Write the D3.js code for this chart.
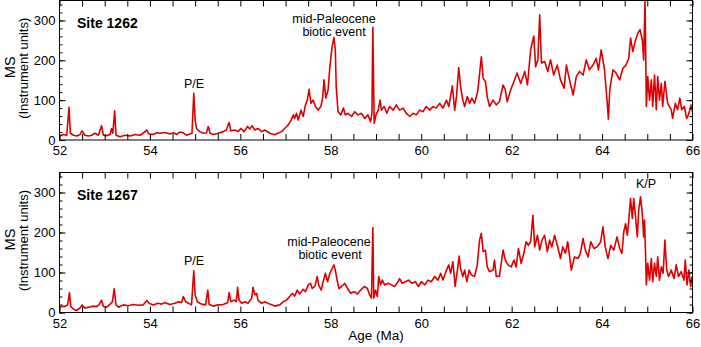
<!DOCTYPE html>
<html>
<head>
<meta charset="utf-8">
<script src="https://cdn.jsdelivr.net/npm/d3@7"></script>
<style>
  body { margin: 0; background: #fff; }
  svg { display: block; font-family: "Liberation Sans", Arial, Helvetica, sans-serif; }
  .axis text { font-size: 13px; fill: #000; }
  .axis line { stroke: #000; }
  .axis path { display: none; }
  .frame { fill: none; stroke: #000; stroke-width: 1; }
  .series { fill: none; stroke: #dc0000; stroke-width: 1.6; stroke-linejoin: round; }
  .site { font-size: 14px; font-weight: bold; }
  .note { font-size: 12.5px; text-anchor: middle; }
  .ylab { font-size: 13px; text-anchor: middle; }
  .ms { font-size: 14.5px; text-anchor: middle; }
</style>
</head>
<body>
<svg width="701" height="347"></svg>
<script>
// age (Ma), MS (instrument units)
var site1262 = [
  [52.0,8],[52.01,10],[52.08,14],[52.16,12],[52.21,82],[52.24,17],[52.31,12],[52.38,10],[52.45,13],
  [52.5,23],[52.56,12],[52.64,10],[52.71,12],[52.78,17],[52.86,12],[52.93,36],[52.97,12],[53.04,11],
  [53.12,14],[53.15,29],[53.18,17],[53.22,73],[53.25,12],[53.34,8],[53.45,12],[53.56,10],[53.67,14],
  [53.78,12],[53.85,17],[53.93,25],[53.98,15],[54.07,14],[54.15,18],[54.22,17],[54.33,19],[54.44,15],
  [54.52,18],[54.59,14],[54.66,20],[54.74,18],[54.81,12],[54.88,15],[54.93,17],[54.97,117],[55.0,50],
  [55.03,29],[55.1,21],[55.18,17],[55.25,18],[55.29,34],[55.33,17],[55.4,14],[55.51,17],[55.62,21],
  [55.69,25],[55.75,44],[55.79,23],[55.88,25],[55.95,21],[56.01,29],[56.08,21],[56.16,34],[56.21,28],
  [56.26,36],[56.32,25],[56.39,29],[56.47,21],[56.54,25],[56.65,17],[56.76,13],[56.83,17],[56.91,21],
  [56.98,29],[57.06,38],[57.12,50],[57.17,63],[57.2,54],[57.24,67],[57.28,50],[57.34,75],[57.39,59],
  [57.44,88],[57.48,100],[57.52,127],[57.56,92],[57.61,100],[57.66,84],[57.72,75],[57.78,84],[57.82,105],
  [57.85,151],[57.89,105],[57.94,126],[57.98,184],[58.03,235],[58.07,257],[58.1,226],[58.12,134],
  [58.16,71],[58.22,63],[58.28,80],[58.32,63],[58.38,67],[58.46,59],[58.53,71],[58.6,63],[58.68,67],
  [58.75,54],[58.82,63],[58.88,46],[58.91,67],[58.93,283],[58.96,42],[59.0,63],[59.05,75],[59.09,100],
  [59.12,75],[59.18,84],[59.24,67],[59.3,84],[59.38,75],[59.45,88],[59.52,75],[59.6,80],[59.67,67],
  [59.75,59],[59.82,67],[59.89,63],[59.97,75],[60.04,71],[60.11,84],[60.19,75],[60.26,84],[60.33,80],
  [60.41,92],[60.48,80],[60.56,100],[60.61,84],[60.69,136],[60.74,75],[60.78,109],[60.83,182],[60.87,134],
  [60.92,100],[60.96,84],[61.02,109],[61.07,92],[61.12,105],[61.18,92],[61.25,122],[61.33,209],[61.37,155],
  [61.42,147],[61.46,109],[61.51,84],[61.59,100],[61.66,88],[61.73,96],[61.81,138],[61.86,126],[61.9,96],
  [61.98,126],[62.05,147],[62.12,168],[62.2,142],[62.29,172],[62.35,138],[62.42,226],[62.49,261],
  [62.53,184],[62.58,201],[62.62,314],[62.66,193],[62.73,197],[62.8,172],[62.86,201],[62.93,163],
  [63.01,188],[63.08,151],[63.16,130],[63.21,188],[63.28,151],[63.36,113],[63.43,159],[63.5,172],
  [63.58,163],[63.65,201],[63.72,176],[63.8,188],[63.87,205],[63.92,176],[63.98,226],[64.05,180],
  [64.11,100],[64.14,52],[64.17,126],[64.24,176],[64.31,168],[64.39,151],[64.46,180],[64.53,188],
  [64.59,205],[64.63,256],[64.68,222],[64.73,247],[64.79,268],[64.84,277],[64.89,251],[64.92,201],
  [64.95,352],[64.98,84],[65.01,159],[65.05,100],[65.09,151],[65.12,84],[65.16,163],[65.2,76],[65.23,159],
  [65.27,100],[65.31,142],[65.34,84],[65.39,147],[65.45,92],[65.53,76],[65.56,54],[65.62,92],[65.67,76],
  [65.72,105],[65.76,76],[65.82,84],[65.87,54],[65.91,63],[65.97,88],[66.0,70]
];

var site1267 = [
  [52.0,12],[52.05,16],[52.12,15],[52.18,19],[52.22,50],[52.25,15],[52.31,8],[52.38,5],[52.45,11],
  [52.5,19],[52.56,11],[52.64,13],[52.75,16],[52.82,15],[52.87,19],[52.93,31],[52.97,15],[53.04,13],
  [53.12,21],[53.17,27],[53.21,59],[53.25,19],[53.31,13],[53.41,19],[53.52,17],[53.63,20],[53.74,18],
  [53.85,19],[53.93,30],[53.98,23],[54.07,19],[54.18,23],[54.26,21],[54.33,25],[54.44,20],[54.55,23],
  [54.64,27],[54.7,25],[54.74,40],[54.79,27],[54.85,23],[54.92,19],[54.97,104],[55.0,44],[55.05,27],
  [55.14,21],[55.23,19],[55.28,56],[55.31,20],[55.4,16],[55.51,19],[55.62,20],[55.72,25],[55.75,50],
  [55.79,27],[55.86,31],[55.91,27],[55.94,63],[55.97,31],[56.03,23],[56.1,27],[56.17,23],[56.25,36],
  [56.28,63],[56.32,44],[56.36,48],[56.39,31],[56.47,23],[56.54,27],[56.65,21],[56.76,16],[56.87,19],
  [56.95,27],[57.02,31],[57.09,40],[57.15,48],[57.2,41],[57.26,56],[57.31,46],[57.39,58],[57.44,52],
  [57.5,69],[57.55,73],[57.59,60],[57.65,66],[57.7,90],[57.73,69],[57.79,56],[57.84,81],[57.88,98],
  [57.93,77],[57.98,98],[58.03,110],[58.07,119],[58.1,106],[58.14,81],[58.18,60],[58.24,65],[58.31,73],
  [58.37,60],[58.44,48],[58.52,52],[58.59,46],[58.66,56],[58.74,65],[58.81,60],[58.86,44],[58.9,36],
  [58.93,212],[58.95,36],[58.99,56],[59.03,40],[59.06,90],[59.1,69],[59.14,81],[59.19,69],[59.27,73],
  [59.34,69],[59.41,65],[59.49,77],[59.52,85],[59.58,73],[59.65,77],[59.72,81],[59.8,73],[59.87,77],
  [59.94,65],[60.0,77],[60.08,69],[60.15,81],[60.22,77],[60.3,90],[60.37,81],[60.43,98],[60.48,81],
  [60.56,106],[60.61,119],[60.65,98],[60.7,127],[60.75,65],[60.8,106],[60.84,141],[60.87,110],[60.92,90],
  [60.96,106],[61.01,77],[61.06,106],[61.11,94],[61.18,90],[61.24,119],[61.29,181],[61.33,198],[61.37,152],
  [61.42,156],[61.46,114],[61.51,102],[61.59,106],[61.62,131],[61.66,90],[61.73,91],[61.81,156],
  [61.86,131],[61.92,119],[61.99,114],[62.05,131],[62.1,114],[62.15,160],[62.21,123],[62.27,148],
  [62.32,177],[62.37,168],[62.42,177],[62.47,243],[62.51,164],[62.57,193],[62.62,156],[62.67,181],
  [62.73,193],[62.79,152],[62.84,181],[62.89,164],[62.95,193],[63.01,168],[63.08,135],[63.13,164],
  [63.19,148],[63.24,177],[63.32,106],[63.39,139],[63.47,135],[63.52,148],[63.58,185],[63.63,156],
  [63.69,139],[63.75,177],[63.82,160],[63.89,164],[63.97,177],[64.02,214],[64.07,164],[64.13,135],
  [64.19,168],[64.26,156],[64.33,189],[64.39,160],[64.44,148],[64.48,202],[64.52,222],[64.56,193],
  [64.59,231],[64.63,285],[64.67,235],[64.7,285],[64.74,239],[64.78,189],[64.81,256],[64.85,289],
  [64.89,247],[64.92,189],[64.94,231],[64.96,152],[64.98,69],[65.01,123],[65.05,81],[65.09,135],
  [65.12,77],[65.16,123],[65.2,90],[65.23,139],[65.27,81],[65.31,114],[65.35,98],[65.39,181],[65.43,106],
  [65.47,90],[65.53,106],[65.59,85],[65.64,119],[65.69,90],[65.75,102],[65.81,81],[65.84,131],[65.88,69],
  [65.92,106],[65.96,65],[65.99,90]
];

var xTicks = d3.range(52, 66.01, 0.5);
var xLabels = [52, 54, 56, 58, 60, 62, 64, 66];
var yMinor = d3.range(0, 341, 20);
var yMajor = [0, 100, 200, 300];

var svg = d3.select("svg");
var left = 59.5, right = 692.5;

var x = d3.scaleLinear().domain([52, 66]).range([left, right]);

function drawPanel(top, bottom, data, site, notes) {
  var y = d3.scaleLinear().domain([0, 350]).range([bottom, top]);
  var g = svg.append("g");

  var line = d3.line()
    .x(d => x(d[0]))
    .y(d => y(Math.min(d[1], 350)));

  g.append("defs").append("clipPath")
    .attr("id", "clip" + site)
    .append("rect")
      .attr("x", left).attr("y", top)
      .attr("width", right - left).attr("height", bottom - top);

  g.append("path")
    .datum(data)
    .attr("class", "series")
    .attr("clip-path", "url(#clip" + site + ")")
    .attr("d", line);

  // x ticks, bottom (labelled) and top
  g.append("g")
    .attr("class", "axis")
    .attr("transform", `translate(0,${bottom})`)
    .call(d3.axisBottom(x).tickValues(xTicks).tickSize(-6).tickPadding(6)
      .tickFormat(d => xLabels.indexOf(d) >= 0 ? d : ""));
  g.append("g")
    .attr("class", "axis")
    .attr("transform", `translate(0,${top})`)
    .call(d3.axisTop(x).tickValues(xTicks).tickSize(-6).tickFormat(""));

  // y ticks, left and right
  g.append("g")
    .attr("class", "axis")
    .attr("transform", `translate(${left},0)`)
    .call(d3.axisLeft(y).tickValues(yMinor).tickSize(-3).tickFormat(""));
  g.append("g")
    .attr("class", "axis")
    .attr("transform", `translate(${left},0)`)
    .call(d3.axisLeft(y).tickValues(yMajor).tickSize(-6).tickPadding(4));
  g.append("g")
    .attr("class", "axis")
    .attr("transform", `translate(${right},0)`)
    .call(d3.axisRight(y).tickValues(yMinor).tickSize(-3).tickFormat(""));
  g.append("g")
    .attr("class", "axis")
    .attr("transform", `translate(${right},0)`)
    .call(d3.axisRight(y).tickValues(yMajor).tickSize(-6).tickFormat(""));

  g.append("rect")
    .attr("class", "frame")
    .attr("x", left).attr("y", top)
    .attr("width", right - left).attr("height", bottom - top);

  g.append("text")
    .attr("class", "site")
    .attr("x", 77).attr("y", top + 27)
    .text("Site " + site);

  notes.forEach(n => {
    g.append("text")
      .attr("class", "note")
      .attr("x", n[0]).attr("y", n[1])
      .text(n[2]);
  });

  var cy = (top + bottom) / 2;
  g.append("text")
    .attr("class", "ms")
    .attr("transform", `translate(15,${cy - 3}) rotate(-90)`)
    .text("MS");
  g.append("text")
    .attr("class", "ylab")
    .attr("transform", `translate(27.5,${cy - 2}) rotate(-90)`)
    .text("(Instrument units)");
}

drawPanel(0.5, 140, site1262, "1262", [
  [194, 88, "P/E"],
  [334, 23, "mid-Paleocene"],
  [334, 35.5, "biotic event"]
]);

drawPanel(172.5, 312.5, site1267, "1267", [
  [194, 265, "P/E"],
  [329, 246, "mid-Paleocene"],
  [330, 259, "biotic event"],
  [646, 188, "K/P"]
]);

svg.append("text")
  .attr("x", 376).attr("y", 340)
  .attr("text-anchor", "middle")
  .style("font-size", "13.5px")
  .text("Age (Ma)");
</script>
</body>
</html>
